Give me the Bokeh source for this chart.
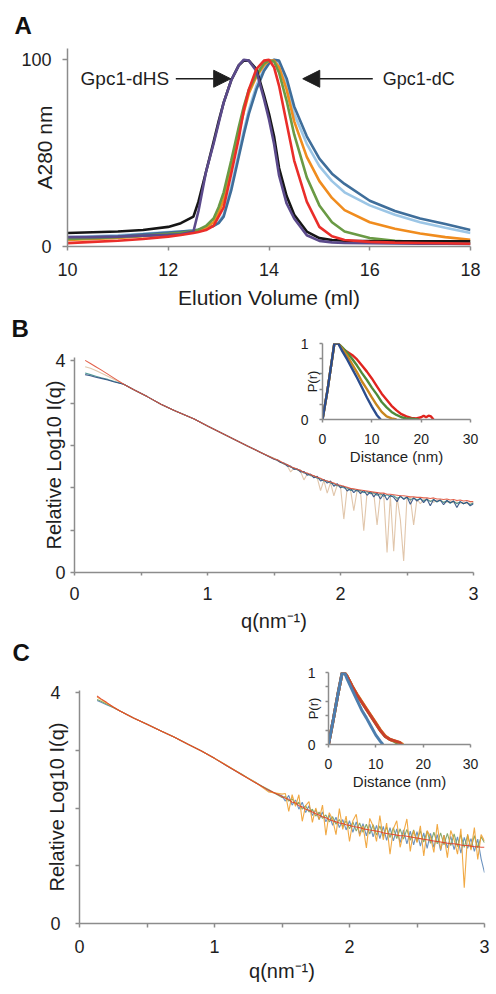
from bokeh.plotting import figure
from bokeh.models import Column, Label, Arrow, NormalHead, FixedTicker, Range1d
from bokeh.embed import file_html
from bokeh.resources import INLINE

FONT = "Liberation Sans"
TXT = "#1e1e1e"
AXC = "#8c8c8c"

# ---------------- Panel A: elution profiles ----------------
elution_ml = [10, 10.5, 11, 11.5, 12, 12.25, 12.5, 12.6, 12.75, 12.9, 13.0, 13.1, 13.25, 13.4, 13.5, 13.6,
              13.75, 13.9, 14.0, 14.1, 14.2, 14.35, 14.5, 14.75, 15.0, 15.25, 15.5, 16.0, 16.5, 17.0, 17.5, 18.0]
a_black = [7.2, 7.6, 8.0, 8.8, 10.5, 12.5, 16, 24, 40, 56, 67, 77, 89, 97, 99.5, 99.5,
           95, 81, 71, 59, 42, 27, 17, 8, 4.5, 3.5, 3.1, 2.9, 2.8, 2.8, 2.8, 2.8]
a_purple = [5, 5, 5.3, 5.8, 6.2, 6.5, 8, 19, 40, 55, 66, 77, 89, 97, 100, 99.5,
            94, 79, 68, 55, 38, 23, 15, 6, 3, 2.2, 1.9, 1.7, 1.6, 1.5, 1.5, 1.4]
a_red = [1.8, 2.5, 3.1, 4.0, 5.3, 6.2, 7.2, 7.8, 8.8, 11, 16, 21, 39, 58, 73, 84,
         95, 99.5, 100, 96, 86, 66, 46, 24, 10.5, 5.5, 3.5, 2.5, 2.1, 1.9, 1.7, 1.5]
a_green = [4.0, 4.5, 5.0, 5.8, 6.8, 7.4, 8.3, 9, 11, 15, 21, 29, 46, 64, 75, 84,
           92, 98, 99.5, 99, 93, 78, 60, 37, 22, 13, 8, 4.5, 3, 2.3, 2.0, 1.8]
a_orange = [3.5, 4, 4.6, 5.5, 6.5, 7, 8, 8.5, 10, 13, 18, 25, 42, 61, 72, 82,
            91, 97, 99.5, 99.5, 96, 84, 67, 48, 35, 26, 19.5, 13, 9.5, 7, 5, 3.6]
a_lightblue = [5, 5.5, 6, 6.8, 7.7, 8, 8.5, 9, 10, 11, 13, 17, 32, 50, 62, 73,
               86, 95, 99, 100, 98, 86, 71, 55, 43, 35, 29, 22, 17, 13, 10, 7.2]
a_darkblue = [4.5, 5, 5.5, 6.5, 7.5, 8, 8.5, 9, 10, 11, 12.5, 16, 30, 48, 60, 71,
              84, 94, 98, 100, 99.5, 90, 75, 59, 47, 39, 33.5, 24.5, 19, 15, 12, 8.8]
a_xticks = [10, 12, 14, 16, 18]
a_yticks = [0, 100]

# ---------------- Panel B: scattering curves ----------------
q_b = [0.08, 0.12, 0.16, 0.2, 0.25, 0.3, 0.37, 0.45, 0.55, 0.65, 0.75, 0.9, 1.0, 1.15, 1.3, 1.4, 1.5,
       1.525, 1.55, 1.575, 1.6, 1.625, 1.65, 1.675, 1.7, 1.725, 1.75, 1.775, 1.8, 1.825, 1.85, 1.875, 1.9,
       1.925, 1.95, 1.975, 2.0, 2.025, 2.05, 2.075, 2.1, 2.125, 2.15, 2.175, 2.2, 2.225, 2.25, 2.275, 2.3,
       2.325, 2.35, 2.375, 2.4, 2.425, 2.45, 2.475, 2.5, 2.525, 2.55, 2.575, 2.6, 2.625, 2.65, 2.675, 2.7,
       2.725, 2.75, 2.775, 2.8, 2.825, 2.85, 2.875, 2.9, 2.925, 2.95, 2.975, 3.0]
b_red = [4.01, 3.95, 3.89, 3.83, 3.75, 3.67, 3.56, 3.45, 3.32, 3.18, 3.06, 2.90, 2.77, 2.58, 2.39, 2.27, 2.15,
         2.13, 2.10, 2.06, 2.04, 2.00, 1.98, 1.95, 1.93, 1.89, 1.88, 1.85, 1.83, 1.80, 1.78, 1.75, 1.73,
         1.71, 1.69, 1.66, 1.65, 1.63, 1.61, 1.59, 1.58, 1.57, 1.56, 1.55, 1.54, 1.53, 1.52, 1.51, 1.50,
         1.50, 1.48, 1.48, 1.47, 1.46, 1.45, 1.45, 1.44, 1.43, 1.43, 1.42, 1.42, 1.41, 1.41, 1.40, 1.41,
         1.39, 1.39, 1.38, 1.39, 1.37, 1.38, 1.36, 1.37, 1.35, 1.36, 1.34, 1.34]
b_tan = [3.89, 3.86, 3.82, 3.77, 3.71, 3.65, 3.56, 3.45, 3.32, 3.18, 3.06, 2.90, 2.77, 2.58, 2.39, 2.27, 2.16,
         2.11, 2.08, 2.05, 2.02, 1.90, 1.97, 1.94, 1.91, 1.75, 1.86, 1.84, 1.81, 1.79, 1.55, 1.74, 1.50,
         1.70, 1.45, 1.65, 1.63, 1.01, 1.59, 1.57, 1.17, 1.55, 1.54, 0.79, 1.52, 1.51, 1.50, 0.90, 1.48,
         1.47, 0.38, 1.45, 0.40, 1.43, 1.00, 0.22, 1.42, 1.41, 0.90, 1.39, 1.30, 1.38, 1.37, 1.36, 1.33,
         1.36, 1.35, 1.34, 1.33, 1.34, 1.32, 1.33, 1.31, 1.32, 1.30, 1.31, 1.31]
b_green = [3.77, 3.74, 3.71, 3.68, 3.65, 3.61, 3.56, 3.45, 3.32, 3.18, 3.06, 2.90, 2.77, 2.58, 2.39, 2.27, 2.15,
           2.13, 2.09, 2.05, 2.04, 1.99, 1.97, 1.94, 1.93, 1.88, 1.87, 1.83, 1.83, 1.78, 1.77, 1.73, 1.73,
           1.69, 1.68, 1.64, 1.64, 1.60, 1.60, 1.55, 1.57, 1.54, 1.55, 1.51, 1.53, 1.49, 1.51, 1.46, 1.49,
           1.44, 1.47, 1.43, 1.45, 1.40, 1.43, 1.40, 1.42, 1.37, 1.41, 1.37, 1.40, 1.35, 1.39, 1.34, 1.38,
           1.33, 1.37, 1.32, 1.36, 1.31, 1.35, 1.30, 1.34, 1.30, 1.33, 1.28, 1.32]
b_blue = [3.74, 3.72, 3.69, 3.67, 3.64, 3.60, 3.56, 3.45, 3.32, 3.18, 3.06, 2.90, 2.77, 2.58, 2.39, 2.27, 2.14,
          2.12, 2.08, 2.07, 2.01, 2.01, 1.95, 1.96, 1.90, 1.91, 1.84, 1.86, 1.79, 1.82, 1.73, 1.76, 1.69,
          1.73, 1.63, 1.68, 1.60, 1.63, 1.54, 1.59, 1.51, 1.57, 1.49, 1.55, 1.46, 1.53, 1.43, 1.51, 1.39,
          1.49, 1.37, 1.46, 1.42, 1.34, 1.45, 1.38, 1.43, 1.29, 1.41, 1.35, 1.40, 1.32, 1.39, 1.26, 1.38,
          1.34, 1.37, 1.28, 1.36, 1.32, 1.35, 1.23, 1.34, 1.30, 1.33, 1.26, 1.30]

# inset B: pair distance distributions
rb_blue = [0, 1, 2, 2.4, 3.2, 4, 5, 6, 7, 8, 9, 10, 11, 11.8]
pb_blue = [0, 0.38, 0.82, 1.0, 1.0, 0.90, 0.79, 0.67, 0.55, 0.42, 0.29, 0.17, 0.06, 0]
rb_orange = [0, 1, 2, 2.4, 3.2, 4, 5, 6, 7, 8, 9, 10, 11, 12, 13, 14, 15]
pb_orange = [0, 0.38, 0.82, 1.0, 1.0, 0.93, 0.84, 0.73, 0.62, 0.50, 0.40, 0.29, 0.19, 0.10, 0.04, 0.015, 0]
rb_green = [0, 1, 2, 2.4, 3.2, 4, 5, 6, 7, 8, 9, 10, 11, 12, 13, 14, 15, 16, 17, 18, 19, 19.5]
pb_green = [0, 0.38, 0.82, 1.0, 1.0, 0.95, 0.88, 0.80, 0.71, 0.61, 0.52, 0.42, 0.33, 0.23, 0.16, 0.10,
            0.06, 0.03, 0.015, 0.01, 0.005, 0]
rb_red = [0, 1, 2, 2.4, 3.2, 4, 5, 6, 7, 8, 9, 10, 11, 12, 13, 14, 15, 16, 17, 18, 19, 20, 20.5, 21, 21.5, 22, 22.5]
pb_red = [0, 0.38, 0.82, 1.0, 1.0, 0.93, 0.89, 0.85, 0.79, 0.71, 0.63, 0.54, 0.44, 0.34, 0.26, 0.18,
          0.12, 0.07, 0.04, 0.02, 0.015, 0.03, 0.05, 0.03, 0.05, 0.04, 0]

# ---------------- Panel C: scattering curves ----------------
q_c = [0.13, 0.16, 0.2, 0.25, 0.3, 0.4, 0.5, 0.6, 0.7, 0.8, 0.9, 1.0, 1.1, 1.2, 1.3, 1.4, 1.5,
       1.525, 1.55, 1.575, 1.6, 1.625, 1.65, 1.675, 1.7, 1.725, 1.75, 1.775, 1.8, 1.825, 1.85, 1.875, 1.9,
       1.925, 1.95, 1.975, 2.0, 2.025, 2.05, 2.075, 2.1, 2.125, 2.15, 2.175, 2.2, 2.225, 2.25, 2.275, 2.3,
       2.325, 2.35, 2.375, 2.4, 2.425, 2.45, 2.475, 2.5, 2.525, 2.55, 2.575, 2.6, 2.625, 2.65, 2.675, 2.7,
       2.725, 2.75, 2.775, 2.8, 2.825, 2.85, 2.875, 2.9, 2.925, 2.95, 2.975, 3.0]
c_blue = [3.86, 3.83, 3.79, 3.74, 3.68, 3.56, 3.45, 3.34, 3.23, 3.11, 2.99, 2.86, 2.72, 2.58, 2.45, 2.30, 2.21,
          2.12, 2.22, 2.05, 2.14, 1.98, 2.10, 1.92, 2.04, 1.87, 1.97, 1.80, 1.93, 1.76, 1.88, 1.70, 1.84,
          1.66, 1.80, 1.62, 1.78, 1.58, 1.76, 1.55, 1.73, 1.52, 1.72, 1.50, 1.70, 1.47, 1.68, 1.44, 1.66,
          1.43, 1.64, 1.40, 1.62, 1.38, 1.60, 1.36, 1.59, 1.34, 1.57, 1.30, 1.56, 1.32, 1.54, 1.26, 1.53,
          1.31, 1.51, 1.28, 1.50, 1.22, 1.49, 1.30, 1.47, 1.25, 1.46, 1.12, 0.88]
c_green = [3.88, 3.85, 3.80, 3.74, 3.68, 3.56, 3.45, 3.34, 3.23, 3.11, 2.99, 2.86, 2.72, 2.59, 2.44, 2.32, 2.18,
           2.20, 2.12, 2.16, 2.06, 2.10, 1.98, 2.04, 1.93, 1.98, 1.86, 1.93, 1.82, 1.88, 1.76, 1.85, 1.72,
           1.80, 1.68, 1.78, 1.64, 1.76, 1.60, 1.74, 1.58, 1.72, 1.55, 1.71, 1.53, 1.69, 1.51, 1.67, 1.49,
           1.66, 1.47, 1.64, 1.46, 1.63, 1.44, 1.62, 1.42, 1.61, 1.41, 1.60, 1.39, 1.58, 1.38, 1.57, 1.36,
           1.56, 1.35, 1.55, 1.33, 1.54, 1.32, 1.53, 1.30, 1.52, 1.31, 1.50, 1.40]
c_orange = [3.92, 3.88, 3.82, 3.75, 3.68, 3.56, 3.45, 3.34, 3.23, 3.11, 2.99, 2.86, 2.73, 2.58, 2.45, 2.28, 2.24,
            2.25, 1.94, 2.23, 2.03, 2.23, 1.77, 2.04, 2.11, 1.75, 2.00, 1.80, 2.05, 1.53, 1.92, 1.80, 1.54,
            1.99, 1.63, 1.86, 1.42, 1.78, 1.89, 1.51, 1.69, 1.31, 1.82, 1.69, 1.42, 1.87, 1.45, 1.74, 1.20,
            1.64, 1.78, 1.32, 1.57, 1.81, 1.25, 1.61, 1.40, 1.69, 1.17, 1.61, 1.50, 1.23, 1.72, 1.28, 1.53,
            1.14, 1.61, 1.45, 1.20, 1.64, 0.62, 1.55, 1.27, 1.66, 1.11, 1.54, 1.43]
c_red = [3.94, 3.89, 3.83, 3.75, 3.68, 3.56, 3.45, 3.34, 3.23, 3.11, 2.99, 2.86, 2.72, 2.58, 2.44, 2.31, 2.20,
         2.17, 2.15, 2.10, 2.09, 2.04, 2.02, 1.98, 1.96, 1.93, 1.90, 1.88, 1.85, 1.83, 1.80, 1.78, 1.76,
         1.74, 1.73, 1.71, 1.70, 1.68, 1.67, 1.66, 1.64, 1.63, 1.62, 1.61, 1.60, 1.59, 1.57, 1.56, 1.55,
         1.54, 1.53, 1.52, 1.52, 1.51, 1.50, 1.49, 1.48, 1.47, 1.46, 1.45, 1.44, 1.43, 1.42, 1.41, 1.40,
         1.39, 1.38, 1.38, 1.37, 1.36, 1.35, 1.35, 1.34, 1.33, 1.33, 1.32, 1.32]

# inset C
rc_blue = [0, 1, 2, 2.9, 3.5, 4, 5, 6, 7, 8, 9, 10, 11, 11.5]
pc_blue = [0, 0.34, 0.70, 1.0, 0.98, 0.90, 0.76, 0.62, 0.48, 0.37, 0.25, 0.13, 0.04, 0]
rc_green = [0, 1, 2, 2.9, 3.5, 4, 5, 6, 7, 8, 9, 10, 11, 12, 13, 14, 15]
pc_green = [0, 0.34, 0.70, 1.0, 0.99, 0.94, 0.81, 0.69, 0.59, 0.49, 0.39, 0.29, 0.19, 0.11, 0.07, 0.04, 0]
rc_orange = [0, 1, 2, 2.9, 3.5, 4, 5, 6, 7, 8, 9, 10, 11, 12, 13, 14, 15, 15.8]
pc_orange = [0, 0.34, 0.70, 1.0, 0.99, 0.94, 0.81, 0.70, 0.60, 0.50, 0.40, 0.30, 0.20, 0.12, 0.07, 0.05, 0.03, 0]
rc_red = [0, 1, 2, 2.9, 3.5, 4, 5, 6, 7, 8, 9, 10, 11, 12, 13, 14, 15, 15.5]
pc_red = [0, 0.34, 0.70, 1.0, 0.99, 0.94, 0.81, 0.69, 0.59, 0.49, 0.39, 0.29, 0.19, 0.11, 0.07, 0.05, 0.03, 0]


def make_fig(xr, yr, left, right, top, bottom, fw, fh, pos):
    p = figure(x_range=Range1d(*xr), y_range=Range1d(*yr),
               frame_width=fw, frame_height=fh, width=None, height=None,
               min_border_left=left, min_border_right=right,
               min_border_top=top, min_border_bottom=bottom,
               output_backend="svg", toolbar_location=None)
    p.frame_align = False
    p.outline_line_color = None
    p.xgrid.visible = False
    p.ygrid.visible = False
    p.background_fill_color = None
    p.border_fill_color = None
    # absolute placement (page pixels)
    p.styles = {"position": "absolute", "left": f"{pos[0]}px", "top": f"{pos[1]}px"}
    return p


def style_axis(ax, ticks, minor, tick_font, tick_out, lab_standoff, title, title_font, title_standoff):
    ax.ticker = FixedTicker(ticks=ticks, minor_ticks=minor)
    ax.axis_label = title
    ax.axis_line_color = AXC
    ax.axis_line_width = 1.5
    ax.major_tick_line_color = AXC
    ax.major_tick_line_width = 1.5
    ax.minor_tick_line_color = AXC
    ax.minor_tick_line_width = 1.5
    ax.major_tick_in = 0
    ax.major_tick_out = tick_out
    ax.minor_tick_in = 0
    ax.minor_tick_out = tick_out
    ax.major_label_text_font = FONT
    ax.major_label_text_font_size = f"{tick_font}px"
    ax.major_label_text_color = TXT
    ax.major_label_standoff = lab_standoff
    ax.axis_label_text_font = FONT
    ax.axis_label_text_font_size = f"{title_font}px"
    ax.axis_label_text_font_style = "normal"
    ax.axis_label_text_color = TXT
    ax.axis_label_standoff = title_standoff


def letter(p, text, offset, standoff):
    p.title.text = text
    p.title.align = "left"
    p.title.offset = offset
    p.title.standoff = standoff
    p.title.text_font = FONT
    p.title.text_font_size = "24px"
    p.title.text_font_style = "bold"
    p.title.text_color = "#111111"


def hide_title(p):
    p.title.visible = False


# ---- Panel A ----
pA = make_fig((10, 18), (0, 106), 59, 18, 56, 65, 403, 198, (8, -8))
style_axis(pA.xaxis[0], a_xticks, [], 18, 4, 12, "Elution Volume (ml)", 21, 7)
style_axis(pA.yaxis[0], a_yticks, [], 18, 5, 11, "A280 nm", 21, -38)
a_series = [(a_lightblue, "#9cc6e6"), (a_darkblue, "#3f6e9a"), (a_orange, "#f08c1e"),
            (a_green, "#6a9a45"), (a_black, "#151515"), (a_purple, "#5b4a8b"), (a_red, "#ea2e2a")]
for ys, col in a_series:
    pA.line(elution_ml, ys, line_color=col, line_width=2.6)
pA.add_layout(Arrow(end=NormalHead(size=17, fill_color=TXT, line_color=TXT, line_width=1),
                    x_start=12.15, y_start=89.8, x_end=13.24, y_end=89.8, line_color=TXT, line_width=1.5))
pA.add_layout(Arrow(end=NormalHead(size=17, fill_color=TXT, line_color=TXT, line_width=1),
                    x_start=16.06, y_start=89.8, x_end=14.67, y_end=89.8, line_color=TXT, line_width=1.5))
pA.add_layout(Label(x=12.02, y=89.8, text="Gpc1-dHS", text_font=FONT, text_font_size="19px",
                    text_color=TXT, text_align="right", text_baseline="middle"))
pA.add_layout(Label(x=16.26, y=89.8, text="Gpc1-dC", text_font=FONT, text_font_size="18px",
                    text_color=TXT, text_align="left", text_baseline="middle"))
letter(pA, "A", -53, 19)

# ---- Panel B ----
pB = make_fig((0, 3), (0, 4.064), 66, 15, 66, 60, 399, 215, (8, 291))
style_axis(pB.xaxis[0], [0, 1, 2, 3], [0.5, 1.5, 2.5], 18, 3, 11, "q(nm\u207b\u00b9)", 20, 7)
style_axis(pB.yaxis[0], [0, 4], [0.8, 1.6, 2.4, 3.2], 18, 4, 5, "Relative Log10 I(q)", 20, -13)
for ys, col, a in [(b_tan, "#d9b896", 0.8), (b_green, "#3f8f8c", 0.9), (b_blue, "#2d4d80", 0.9), (b_red, "#e0523a", 0.9)]:
    pB.line(q_b, ys, line_color=col, line_width=1.1, line_alpha=a)
letter(pB, "B", -63, 31)

# inset B
iB = make_fig((0, 30), (0, 1), 30, 14, 10, 56, 148, 76, (292, 333))
style_axis(iB.xaxis[0], [0, 10, 20, 30], [], 14, 3, 11, "Distance (nm)", 15, 1)
style_axis(iB.yaxis[0], [0, 1], [0.2, 0.4, 0.6, 0.8], 14, 3, 11, "P(r)", 13, -22)
for rs, ps, col in [(rb_red, pb_red, "#e0241e"), (rb_green, pb_green, "#4e8a3a"),
                    (rb_orange, pb_orange, "#c8861e"), (rb_blue, pb_blue, "#2b4c8c")]:
    iB.line(rs, ps, line_color=col, line_width=2.4)
hide_title(iB)

# ---- Panel C ----
pC = make_fig((0, 3), (0, 4.035), 71, 4, 84, 60, 409, 233, (8, 606))
style_axis(pC.xaxis[0], [0, 1, 2, 3], [0.5, 1.5, 2.5], 18, 4, 12, "q(nm\u207b\u00b9)", 20, 4)
style_axis(pC.yaxis[0], [0, 1, 2, 3, 4], [], 18, 4, 15, "Relative Log10 I(q)", 20, -21)
pC.yaxis[0].major_label_overrides = {1: "", 2: "", 3: ""}
for ys, col in [(c_blue, "#5b86b8"), (c_green, "#7ba05b"), (c_orange, "#f0a030"), (c_red, "#e0402a")]:
    pC.line(q_c, ys, line_color=col, line_width=1.1, line_alpha=0.9)
letter(pC, "C", -67, 49)

# inset C
iC = make_fig((0, 30), (0, 1), 30, 14, 10, 56, 142, 72, (298, 662))
style_axis(iC.xaxis[0], [0, 10, 20, 30], [], 14, 3, 11, "Distance (nm)", 15, 1)
style_axis(iC.yaxis[0], [0, 1], [0.2, 0.4, 0.6, 0.8], 14, 3, 10, "P(r)", 13, -16)
for rs, ps, col in [(rc_green, pc_green, "#6d8a3c"), (rc_orange, pc_orange, "#e08a28"),
                    (rc_red, pc_red, "#c8402a"), (rc_blue, pc_blue, "#4d7eae")]:
    iC.line(rs, ps, line_color=col, line_width=3)
hide_title(iC)

# later children are painted above earlier ones
root = Column(children=[pC, pB, pA, iB, iC], width=480, height=970)

open("out.html", "w").write(file_html(root, INLINE))
